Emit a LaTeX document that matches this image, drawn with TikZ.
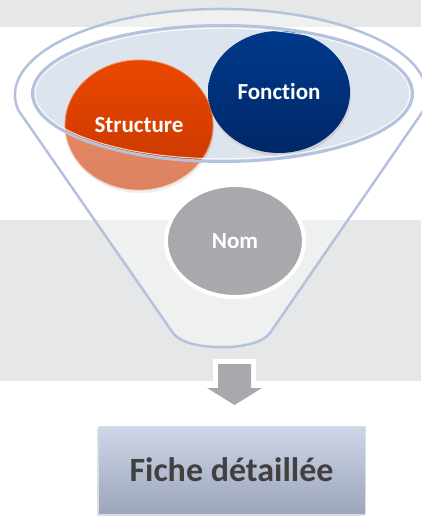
\documentclass[tikz,border=0pt]{standalone}
\usepackage{fontspec}
\setmainfont{Carlito}[Ligatures={NoCommon,NoContextual}]
\usetikzlibrary{shapes.geometric,shadows}
\definecolor{bandgray}{RGB}{230,231,232}
\definecolor{rimblue}{RGB}{180,195,221}
\definecolor{innerfill}{RGB}{222,228,237}
\definecolor{orangetop}{RGB}{234,72,0}
\definecolor{orangebot}{RGB}{198,54,0}
\definecolor{orangeedge}{RGB}{240,140,90}
\definecolor{navytop}{RGB}{0,58,140}
\definecolor{navybot}{RGB}{0,40,104}
\definecolor{nomgray}{RGB}{167,169,172}
\definecolor{boxtop}{RGB}{207,214,231}
\definecolor{boxbot}{RGB}{156,166,186}
\definecolor{boxedge}{RGB}{214,220,232}
\definecolor{textdark}{RGB}{64,64,64}
\definecolor{arrowgray}{RGB}{167,169,172}
\tikzset{
  bubble/.style={ellipse, inner sep=0pt, text=white,
    font=\bfseries\fontsize{23}{27}\selectfont},
  rimline/.style={draw=rimblue, line width=2.5pt, line join=round},
}
\begin{document}
\begin{tikzpicture}[x=1pt,y=-1pt]
\useasboundingbox (0,0) rectangle (421,518);
% background bands
\fill[white] (0,0) rectangle (421,518);
\fill[bandgray] (0,0) rectangle (421,27);
\fill[bandgray] (0,220) rectangle (421,381);
% inner (top) ellipse fill
\fill[innerfill] (222.5,93.5) ellipse [x radius=190, y radius=68];
% circles inside the funnel
\node[bubble, minimum width=148pt, minimum height=130pt,
  top color=orangetop, bottom color=orangebot, draw=orangeedge, line width=0.8pt,
  drop shadow={opacity=0.2, shadow xshift=1pt, shadow yshift=-3pt}]
  (structure) at (139,125) {Structure};
\node[bubble, minimum width=142pt, minimum height=122pt,
  top color=navytop, bottom color=navybot,
  drop shadow={opacity=0.2, shadow xshift=1pt, shadow yshift=-3pt}]
  (fonction) at (279,92) {Fonction};
% translucent front of the funnel
\fill[white, fill opacity=0.38, even odd rule]
  (18.1,109.9) arc[start angle=170, end angle=370, x radius=206, y radius=86]
  -- (270,333) .. controls (257,352) and (186,352) .. (173,333) -- cycle
  (222.5,93.5) ellipse [x radius=190, y radius=68];
% funnel outline
\draw[rimline]
  (18.1,109.9) arc[start angle=170, end angle=370, x radius=206, y radius=86]
  -- (270,333) .. controls (257,352) and (186,352) .. (173,333) -- cycle;
% inner rim
\draw[rimblue, line width=3pt] (222.5,93.5) ellipse [x radius=190, y radius=68];
\draw[white, line width=1pt, opacity=0.8] (222.5,93.5) ellipse [x radius=187.3, y radius=65.3];
% Nom
\node[bubble, minimum width=138pt, minimum height=112pt, fill=nomgray,
  draw=white, line width=4pt] (nom) at (235,241) {Nom};
% block arrow
\fill[white] (213,359) rectangle (256,386);
\fill[arrowgray] (218,364) -- (251,364) -- (251,388) -- (262,388) -- (234.5,405)
  -- (207,388) -- (218,388) -- cycle;
% result box
\node[rectangle, minimum width=267pt, minimum height=88pt,
  top color=boxtop, bottom color=boxbot, draw=boxedge, line width=0.8pt,
  drop shadow={opacity=0.25, shadow xshift=-1pt, shadow yshift=-2pt},
  text=textdark, font=\bfseries\fontsize{34}{40}\selectfont]
  (fiche) at (231.5,470) {Fiche détaillée};
\end{tikzpicture}
\end{document}
